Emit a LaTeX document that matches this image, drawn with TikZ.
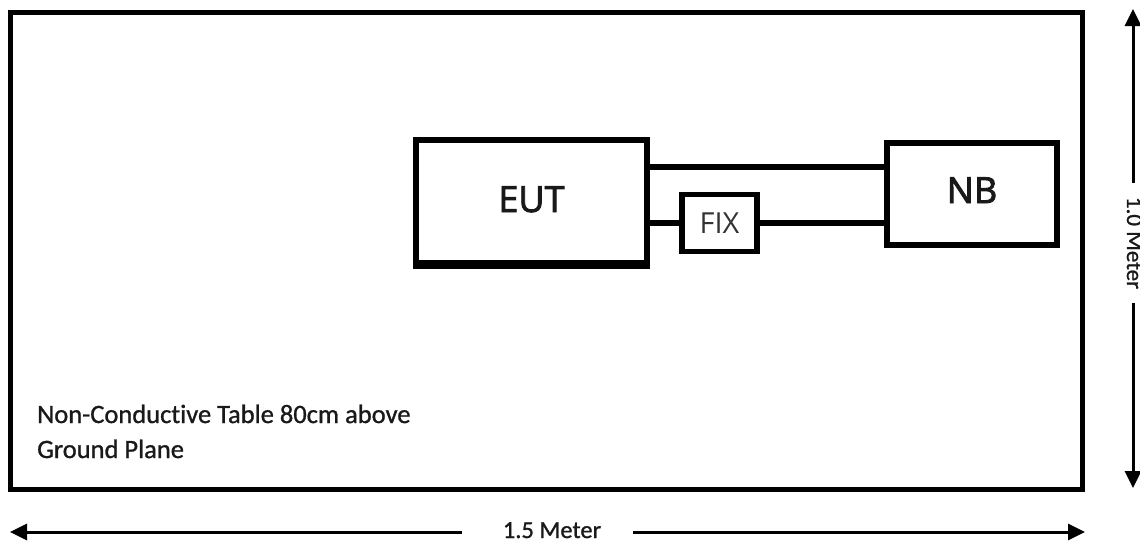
\documentclass[tikz,border=0pt]{standalone}
\usepackage{fontspec}
\setmainfont[Ligatures=NoCommon, FakeBold=1]{Carlito}
\newfontfamily\boxfont{Open Sans}
\newfontfamily\boxfontsb[FakeBold=2.5]{Open Sans}
\usetikzlibrary{arrows.meta}
\tikzset{
  frame/.style={draw=black, line width=5pt, minimum width=1072pt, minimum height=477pt, inner sep=0pt},
  devbox/.style={draw=black, line width=5.5pt, inner sep=0pt, font=\boxfontsb\fontsize{36}{40}\selectfont, text=black!90},
  fixbox/.style={draw=black, line width=5.5pt, inner sep=0pt, font=\boxfont\fontsize{29}{32}\selectfont, text=black!80},
  wire/.style={line width=6pt},
  dim/.style={line width=3pt, -{Triangle[length=17pt,width=16pt]}},
  lbl/.style={font=\fontsize{23}{26}\selectfont, text=black!90, inner sep=0pt},
}
\begin{document}
\begin{tikzpicture}[x=1pt,y=-1pt]
\useasboundingbox (0,0) rectangle (1140,542);
% table
\node[frame] (table) at (546,251) {};
% devices
\node[devbox, minimum width=231pt, minimum height=123pt, text height=27pt, text depth=6pt] (eut) at (531.5,201.5) {EUT};
\draw[line width=3pt] ([yshift=-1.5pt]eut.south west) -- ([yshift=-1.5pt]eut.south east);
\node[devbox, minimum width=170pt, minimum height=102pt, text height=25pt, text depth=7pt] (nb) at (972,194) {NB};
\node[fixbox, minimum width=75pt, minimum height=57pt, text height=21pt, text depth=0pt] (fix) at (719.5,223) {FIX};
% wires
\coordinate (wup) at (0,167);
\draw[wire] (eut.east |- wup) -- (nb.west |- wup);
\draw[wire] (eut.east |- fix.west) -- (fix.west);
\draw[wire] (fix.east) -- (nb.west |- fix.east);
% text
\node[lbl, font=\fontsize{26.5}{28}\selectfont, anchor=base west] (t1) at (37,423) {Non-Conductive Table 80cm above};
\node[lbl, font=\fontsize{26.5}{28}\selectfont, anchor=base west] (t2) at (37,458) {Ground Plane};
% horizontal dimension
\node[lbl, font=\fontsize{24.5}{26}\selectfont, anchor=base] (hw) at (552,538) {1.5 Meter};
\coordinate (hl) at (10,532);
\coordinate (hr) at (1085,532);
\coordinate (hls) at (462,532);
\coordinate (hrs) at (633,532);
\draw[dim] (hls) -- (hl);
\draw[dim] (hrs) -- (hr);
% vertical dimension
\node[lbl, rotate=-90, anchor=base] (vh) at (1127,243) {1.0 Meter};
\coordinate (vt) at (1133,9);
\coordinate (vb) at (1133,488);
\coordinate (vts) at (1133,183);
\coordinate (vbs) at (1133,303);
\draw[dim] (vts) -- (vt);
\draw[dim] (vbs) -- (vb);
\end{tikzpicture}
\end{document}
